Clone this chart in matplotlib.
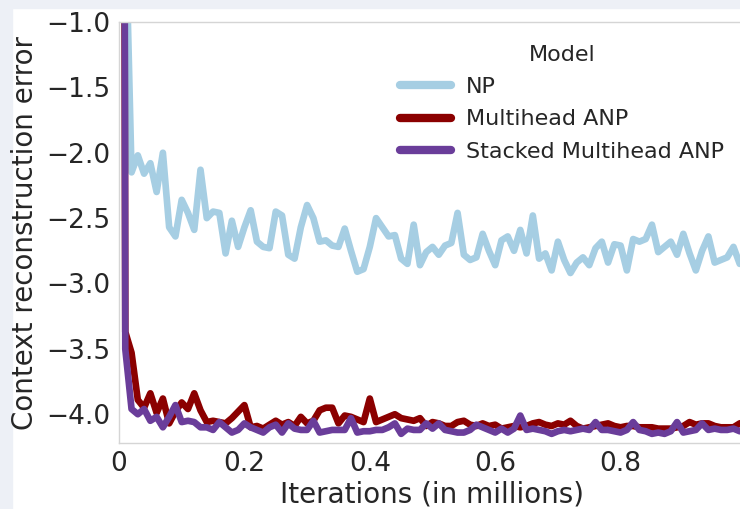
import numpy as np
import matplotlib
matplotlib.use('Agg')
import matplotlib.pyplot as plt
from matplotlib.patches import Rectangle

# iterations (in millions), one sample every 10k iterations
iterations = np.round(np.arange(0, 1.001, 0.01), 2)

np_err = [1.0, -0.17, -2.15, -2.02, -2.16, -2.08, -2.30, -2.00, -2.57, -2.64,
          -2.36, -2.46, -2.59, -2.13, -2.50, -2.45, -2.46, -2.77, -2.52, -2.72,
          -2.57, -2.44, -2.68, -2.72, -2.73, -2.45, -2.48, -2.78, -2.81, -2.57,
          -2.40, -2.50, -2.68, -2.67, -2.71, -2.72, -2.58, -2.75, -2.91, -2.89,
          -2.72, -2.50, -2.57, -2.64, -2.63, -2.81, -2.85, -2.55, -2.86, -2.76,
          -2.72, -2.78, -2.71, -2.69, -2.46, -2.78, -2.82, -2.80, -2.62, -2.75,
          -2.86, -2.67, -2.64, -2.75, -2.59, -2.77, -2.48, -2.81, -2.77, -2.90,
          -2.68, -2.82, -2.92, -2.84, -2.80, -2.86, -2.73, -2.68, -2.84, -2.70,
          -2.71, -2.90, -2.66, -2.68, -2.66, -2.55, -2.76, -2.72, -2.68, -2.78,
          -2.62, -2.77, -2.90, -2.75, -2.64, -2.84, -2.82, -2.80, -2.72, -2.85,
          -2.80]

multihead_err = [20.0, -3.37, -3.53, -3.89, -3.95, -3.84, -3.99, -3.88, -4.07, -3.98,
                 -3.91, -3.96, -3.84, -3.97, -4.06, -4.05, -4.06, -4.07, -4.03, -3.98,
                 -3.93, -4.10, -4.09, -4.11, -4.08, -4.05, -4.08, -4.06, -4.09, -4.02,
                 -4.07, -4.05, -3.97, -3.95, -3.95, -4.07, -4.01, -4.02, -4.04, -4.06,
                 -3.88, -4.06, -4.04, -4.02, -4.00, -4.03, -4.04, -4.05, -4.03, -4.09,
                 -4.06, -4.07, -4.09, -4.09, -4.06, -4.05, -4.08, -4.09, -4.07, -4.09,
                 -4.08, -4.11, -4.10, -4.09, -4.10, -4.09, -4.07, -4.06, -4.08, -4.09,
                 -4.07, -4.08, -4.05, -4.09, -4.11, -4.10, -4.09, -4.08, -4.07, -4.09,
                 -4.10, -4.09, -4.09, -4.10, -4.10, -4.10, -4.11, -4.11, -4.11, -4.10,
                 -4.09, -4.06, -4.08, -4.07, -4.07, -4.09, -4.10, -4.10, -4.10, -4.07,
                 -4.06]

stacked_err = [30.0, -3.50, -3.96, -4.00, -3.96, -4.05, -4.02, -4.10, -4.02, -3.93,
               -4.06, -4.05, -4.06, -4.10, -4.10, -4.12, -4.06, -4.10, -4.14, -4.12,
               -4.07, -4.10, -4.12, -4.14, -4.10, -4.08, -4.14, -4.07, -4.11, -4.12,
               -4.12, -4.05, -4.14, -4.13, -4.12, -4.12, -4.12, -4.03, -4.14, -4.13,
               -4.13, -4.12, -4.12, -4.10, -4.07, -4.15, -4.11, -4.12, -4.12, -4.07,
               -4.11, -4.07, -4.12, -4.13, -4.14, -4.14, -4.12, -4.08, -4.10, -4.12,
               -4.14, -4.11, -4.14, -4.11, -4.01, -4.12, -4.11, -4.12, -4.13, -4.15,
               -4.13, -4.12, -4.13, -4.12, -4.11, -4.12, -4.06, -4.12, -4.12, -4.13,
               -4.14, -4.12, -4.06, -4.12, -4.13, -4.15, -4.14, -4.15, -4.13, -4.06,
               -4.14, -4.13, -4.12, -4.07, -4.12, -4.11, -4.12, -4.12, -4.11, -4.13,
               -4.12]

series_names = ['NP', 'Multihead ANP', 'Stacked Multihead ANP']
series_colors = ['#a6cee3', '#8b0000', '#6a3d9a']
xticks = [0, 0.2, 0.4, 0.6, 0.8]
xtick_labels = ['0', '0.2', '0.4', '0.6', '0.8']
yticks = [-1.0, -1.5, -2.0, -2.5, -3.0, -3.5, -4.0]

text_color = '#262626'
plt.rcParams['font.family'] = 'DejaVu Sans'

fig = plt.figure(figsize=(7.4, 5.09), dpi=100)
# faint textured border of the original screenshot, kept behind everything
fig.patches.append(Rectangle((0, 0), 12 / 740, 1, transform=fig.transFigure,
                             color='#edf0f6', zorder=-10))
fig.patches.append(Rectangle((0, 1 - 8 / 509), 1, 8 / 509, transform=fig.transFigure,
                             color='#edf0f6', zorder=-10))

# the axes runs a little past the right edge of the picture (cropped screenshot)
ax = fig.add_axes([119 / 740, 66 / 509, 627 / 740, 421 / 509])

for vals, name, color in zip([np_err, multihead_err, stacked_err], series_names, series_colors):
    ax.plot(iterations, vals, color=color, linewidth=4.8, label=name,
            solid_joinstyle='round', solid_capstyle='round')

ax.set_xlim(0, 1.0)
ax.set_ylim(-4.22, -1.0)
ax.set_xticks(xticks)
ax.set_xticklabels(xtick_labels)
ax.set_yticks(yticks)
ax.set_yticklabels([f'\u2212{abs(v):.1f}' for v in yticks])
ax.tick_params(axis='both', length=0, labelsize=19, labelcolor=text_color, pad=6)

for side in ['left', 'bottom', 'top', 'right']:
    ax.spines[side].set_color('#d5d5d5')
    ax.spines[side].set_linewidth(1.0)

ax.set_xlabel('Iterations (in millions)', fontsize=20, color=text_color, labelpad=2)
ax.set_ylabel('Context reconstruction error', fontsize=20, color=text_color, labelpad=5.5)

leg = ax.legend(title='Model', loc='upper center', bbox_to_anchor=(562 / 740, 1 - 25 / 509),
                bbox_transform=fig.transFigure, frameon=False, fontsize=16,
                title_fontsize=16, handlelength=2.3, handletextpad=0.7,
                labelspacing=0.55)
for line in leg.get_lines():
    line.set_linewidth(6)
for t in leg.get_texts():
    t.set_color(text_color)
leg.get_title().set_color(text_color)

fig.savefig('out.png', dpi=100)
